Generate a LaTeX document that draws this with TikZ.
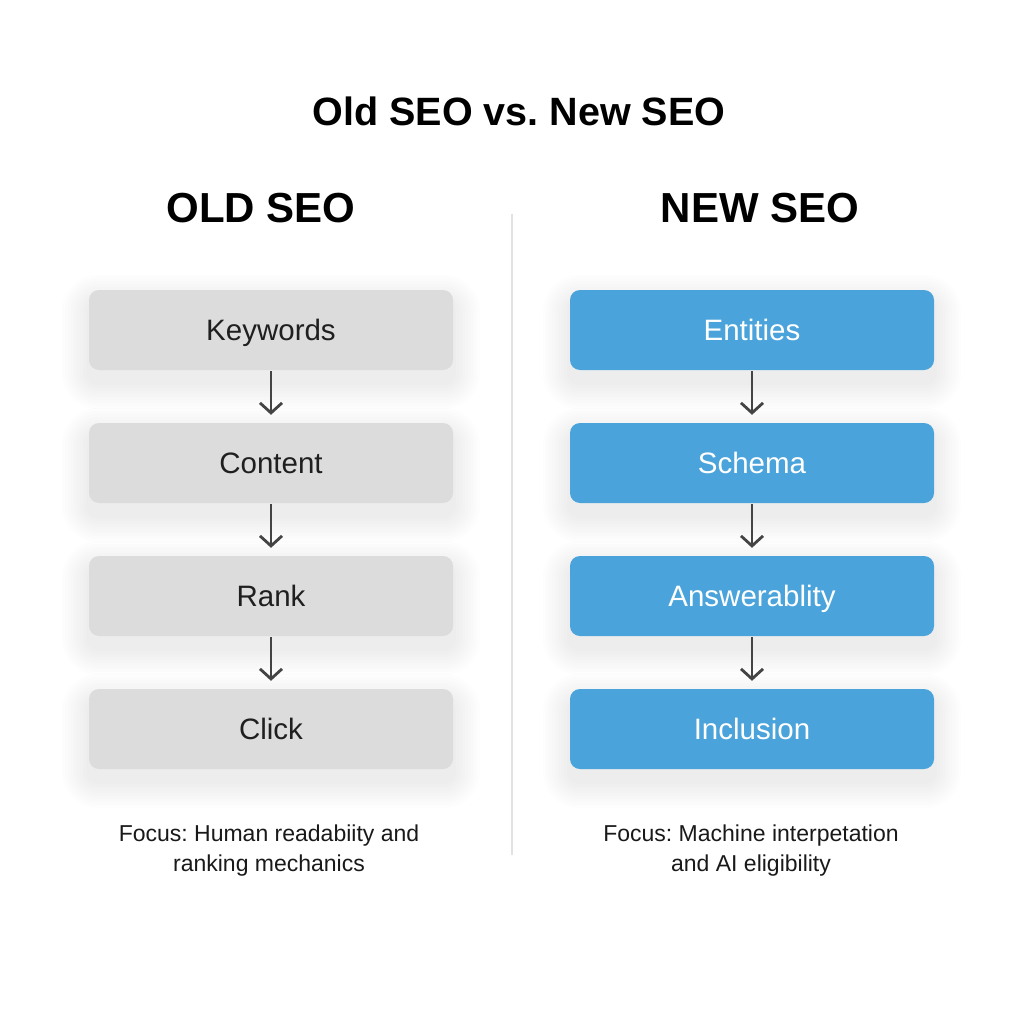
\documentclass[tikz,border=0pt]{standalone}
\usepackage{fontspec}
\setmainfont{Liberation Sans}
\frenchspacing
\usetikzlibrary{arrows.meta}
\definecolor{boxgray}{HTML}{DCDCDC}
\definecolor{boxblue}{HTML}{4AA4DB}
\definecolor{arrowgray}{HTML}{444444}
\definecolor{divider}{HTML}{E2E2E2}
\pgfdeclarelayer{paper}
\pgfdeclarelayer{bg}
\pgfsetlayers{paper,bg,main}
\begin{document}
\begin{tikzpicture}[x=1pt,y=-1pt,
  oldbox/.style={fill=boxgray,rounded corners=10pt,minimum width=364pt,minimum height=80pt,inner sep=0pt,
    text height=21pt,text depth=0pt,
    font=\fontsize{29.5}{34}\selectfont,text=black!88},
  newbox/.style={oldbox,fill=boxblue,text=white},
  shadowlayer/.style={fill=black,opacity=0.007},
  flowarrow/.style={draw=arrowgray,line width=2.8pt,-{Straight Barb[length=10pt,width=22pt,line width=2.8pt]}},
  heading/.style={font=\bfseries\fontsize{42}{50}\selectfont},
  focus/.style={font=\fontsize{23}{30}\selectfont,align=center,text=black!90}]
\useasboundingbox (0,0) rectangle (1024,1024);
\begin{pgfonlayer}{paper}
\fill[white] (0,0) rectangle (1024,1024);
\end{pgfonlayer}
\node[font=\bfseries\fontsize{39.5}{48}\selectfont] (title) at (519,111) {Old SEO vs. New SEO};
\node[heading] (oldh) at (261,208) {OLD SEO};
\node[heading] (newh) at (760,208) {NEW SEO};
\coordinate (dtop) at (512,214);
\coordinate (dbot) at (512,855);
\draw[divider,line width=2pt] (dtop) -- (dbot);
\node[oldbox] (o1) at (271,330) {Keywords};
\node[oldbox] (o2) at (271,463) {Content};
\node[oldbox] (o3) at (271,596) {Rank};
\node[oldbox] (o4) at (271,729) {Click};
\node[newbox] (n1) at (752,330) {Entities};
\node[newbox] (n2) at (752,463) {Schema};
\node[newbox] (n3) at (752,596) {Answerablity};
\node[newbox] (n4) at (752,729) {Inclusion};
\begin{pgfonlayer}{bg}
\foreach \b in {o1,o2,o3,o4,n1,n2,n3,n4}{
  \foreach \r in {3,6,...,27}{
    \fill[shadowlayer,rounded corners=10pt+\r pt] ([shift={(-\r,-\r+12)}]\b.north west) rectangle ([shift={(\r,\r+12)}]\b.south east);
  }
}
\end{pgfonlayer}
\foreach \a/\b in {o1/o2,o2/o3,o3/o4,n1/n2,n2/n3,n3/n4}{
  \draw[flowarrow] ([yshift=-1pt]\a.south) -- ([yshift=8pt]\b.north);
}
\node[focus] (of) at (269,851) {Focus: Human readabiity and\\ranking mechanics};
\node[focus] (nf) at (751,851) {Focus: Machine interpetation\\and AI eligibility};
\end{tikzpicture}
\end{document}
